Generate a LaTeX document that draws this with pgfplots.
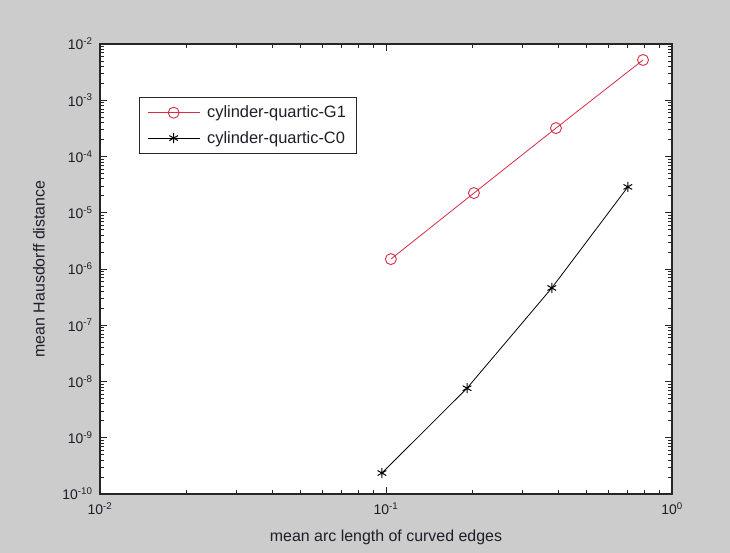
\documentclass[border=0pt]{standalone}
\usepackage{fontspec}
\setmainfont{Liberation Sans}
\usepackage{pgfplots}
\pgfplotsset{compat=1.18}

\definecolor{figbg}{RGB}{204,204,204}
\definecolor{mred}{RGB}{214,45,70}
\definecolor{txt}{RGB}{30,30,40}

\begin{document}
\begin{tikzpicture}
% grey figure area (730 x 553), axis box at (100,59)-(672,509) from the lower left
\path[use as bounding box, fill=figbg] (-100bp,-59bp) rectangle (630bp,494bp);
\begin{axis}[
  xmode=log, ymode=log,
  scale only axis,
  width=572bp, height=450bp,
  xmin=1e-2, xmax=1,
  ymin=1e-10, ymax=1e-2,
  axis background/.style={fill=white},
  axis line style={black!85, line width=1.1bp},
  tick align=inside,
  major tick length=7bp,
  minor tick length=4bp,
  every tick/.style={black!85, line width=0.8bp},
  log number format basis/.code 2 args={#1\textsuperscript{\pgfmathprintnumber[assume math mode=true]{#2}}},
  tick label style={font=\fontsize{14}{16}\selectfont, text=txt},
  xticklabel style={yshift=-5bp},
  yticklabel style={xshift=-4bp},
  xlabel={mean arc length of curved edges},
  ylabel={mean Hausdorff distance},
  label style={font=\fontsize{16}{18}\selectfont, text=txt},
  xlabel style={at={(axis description cs:0.5,-0.0956)}, anchor=center},
  ylabel style={at={(axis description cs:-0.1066,0.5)}, anchor=center},
  legend style={at={(axis description cs:0.068,0.882)}, anchor=north west,
    draw=black!85, line width=0.8bp, font=\fontsize{16.5}{18}\selectfont,
    inner xsep=8bp, inner ysep=6.5bp, row sep=8bp, text=txt},
  legend cell align=left,
  legend image code/.code={
    \draw[mark repeat=2, mark phase=2, #1] plot coordinates {(0bp,0bp) (26bp,0bp) (52bp,0bp)};
    \path (57bp,0bp);
  },
]
\addplot[mred, line width=0.8bp, mark=o, mark size=5.5bp,
  mark options={line width=0.9bp}] coordinates {
  (0.104,1.5e-6) (0.203,2.24e-5) (0.393,3.2e-4) (0.792,5.2e-3)
};
\addlegendentry{cylinder-quartic-G1}
\addplot[black, line width=0.8bp, mark=asterisk, mark size=5bp,
  mark options={line width=1bp}] coordinates {
  (0.0968,2.36e-10) (0.192,7.6e-9) (0.380,4.6e-7) (0.701,2.88e-5)
};
\addlegendentry{cylinder-quartic-C0}
\end{axis}
\end{tikzpicture}
\end{document}
